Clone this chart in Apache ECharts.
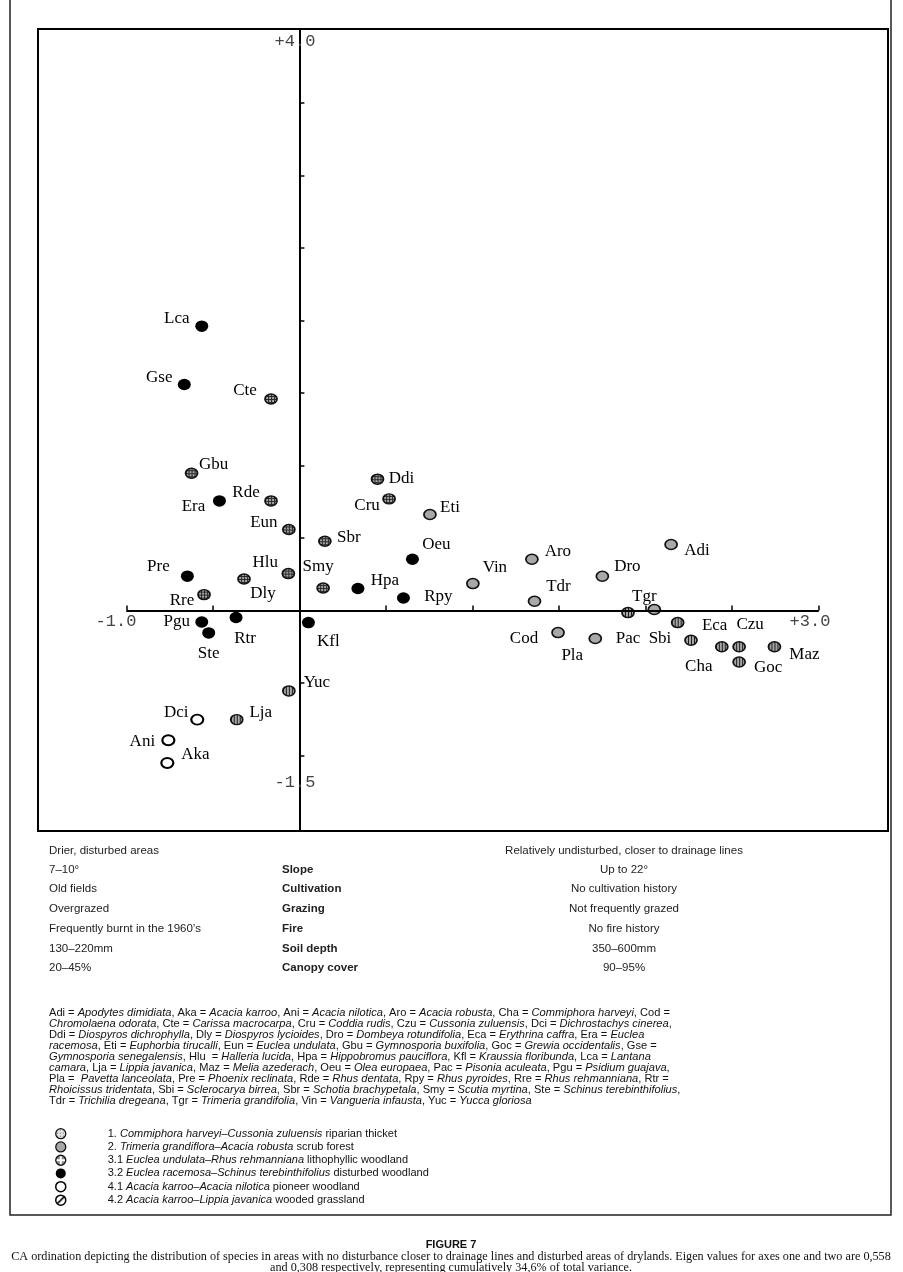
<!DOCTYPE html>
<html><head><meta charset="utf-8">
<script src="https://cdn.jsdelivr.net/npm/echarts@6/dist/echarts.min.js"></script>
<style>html,body{margin:0;padding:0;background:#fff}#c{width:903px;height:1272px}</style>
</head><body><div id="c"></div>
<script>
// ---------------- DATA ----------------
// Group 1: Commiphora harveyi–Cussonia zuluensis riparian thicket
const g1Names = ['Cha', 'Czu', 'Goc', 'Maz', 'Eca', 'Sbi', 'Pac'];
const g1X = [2.44, 2.54, 2.54, 2.744, 2.185, 2.262, 1.898];
const g1Y = [-0.25, -0.25, -0.355, -0.25, -0.083, -0.205, -0.014];
// Group 2: Trimeria grandiflora–Acacia robusta scrub forest
const g2Names = ['Adi', 'Aro', 'Dro', 'Tdr', 'Tgr', 'Vin', 'Eti', 'Cod', 'Pla'];
const g2X = [2.147, 1.343, 1.75, 1.358, 2.05, 1.002, 0.754, 1.494, 1.709];
const g2Y = [0.455, 0.354, 0.237, 0.064, 0.007, 0.186, 0.662, -0.152, -0.193];
// Group 3.1: Euclea undulata–Rhus rehmanniana lithophyllic woodland
const g31Names = ['Cte', 'Gbu', 'Rde', 'Eun', 'Hlu', 'Dly', 'Rre', 'Sbr', 'Smy', 'Ddi', 'Cru'];
const g31X = [-0.164, -0.623, -0.164, -0.061, -0.064, -0.32, -0.551, 0.147, 0.137, 0.451, 0.518];
const g31Y = [1.459, 0.947, 0.756, 0.559, 0.255, 0.218, 0.110, 0.478, 0.156, 0.906, 0.770];
// Group 3.2: Euclea racemosa–Schinus terebinthifolius disturbed woodland
const g32Names = ['Lca', 'Gse', 'Era', 'Pre', 'Pgu', 'Rtr', 'Ste', 'Kfl', 'Oeu', 'Hpa', 'Rpy'];
const g32X = [-0.564, -0.665, -0.462, -0.647, -0.564, -0.366, -0.524, 0.052, 0.653, 0.338, 0.601];
const g32Y = [1.961, 1.559, 0.756, 0.237, -0.079, -0.048, -0.154, -0.083, 0.354, 0.152, 0.087];
// Group 4.1: Acacia karroo–Acacia nilotica pioneer woodland
const g41Names = ['Dci', 'Ani', 'Aka'];
const g41X = [-0.59, -0.757, -0.763];
const g41Y = [-0.752, -0.894, -1.051];
// Group 4.2: Acacia karroo–Lippia javanica wooded grassland
const g42Names = ['Yuc', 'Lja'];
const g42X = [-0.061, -0.362];
const g42Y = [-0.554, -0.752];

const legendLabels = [
  '1. _Commiphora harveyi–Cussonia zuluensis_ riparian thicket',
  '2. _Trimeria grandiflora–Acacia robusta_ scrub forest',
  '3.1 _Euclea undulata–Rhus rehmanniana_ lithophyllic woodland',
  '3.2 _Euclea racemosa–Schinus terebinthifolius_ disturbed woodland',
  '4.1 _Acacia karroo–Acacia nilotica_ pioneer woodland',
  '4.2 _Acacia karroo–Lippia javanica_ wooded grassland'
];

const xTicks = [-1, -0.5, 0.5, 1, 1.5, 2, 2.5, 3];
const yTicks = [-1, -0.5, 0.5, 1, 1.5, 2, 2.5, 3, 3.5];
const axisEndLabels = ['-1.0', '+3.0', '+4.0', '-1.5'];

const tableLeft = ['Drier, disturbed areas', '7–10°', 'Old fields', 'Overgrazed', 'Frequently burnt in the 1960’s', '130–220mm', '20–45%'];
const tableMid = ['', 'Slope', 'Cultivation', 'Grazing', 'Fire', 'Soil depth', 'Canopy cover'];
const tableRight = ['Relatively undisturbed, closer to drainage lines', 'Up to 22°', 'No cultivation history', 'Not frequently grazed', 'No fire history', '350–600mm', '90–95%'];

const abbrevLines = [
  'Adi = _Apodytes dimidiata_, Aka = _Acacia karroo_, Ani = _Acacia nilotica_, Aro = _Acacia robusta_, Cha = _Commiphora harveyi_, Cod =',
  '_Chromolaena odorata_, Cte = _Carissa macrocarpa_, Cru = _Coddia rudis_, Czu = _Cussonia zuluensis_, Dci = _Dichrostachys cinerea_,',
  'Ddi = _Diospyros dichrophylla_, Dly = _Diospyros lycioides_, Dro = _Dombeya rotundifolia_, Eca = _Erythrina caffra_, Era = _Euclea_',
  '_racemosa_, Eti = _Euphorbia tirucalli_, Eun = _Euclea undulata_, Gbu = _Gymnosporia buxifolia_, Goc = _Grewia occidentalis_, Gse =',
  '_Gymnosporia senegalensis_, Hlu  = _Halleria lucida_, Hpa = _Hippobromus pauciflora_, Kfl = _Kraussia floribunda_, Lca = _Lantana_',
  '_camara_, Lja = _Lippia javanica_, Maz = _Melia azederach_, Oeu = _Olea europaea_, Pac = _Pisonia aculeata_, Pgu = _Psidium guajava_,',
  'Pla =  _Pavetta lanceolata_, Pre = _Phoenix reclinata_, Rde = _Rhus dentata_, Rpy = _Rhus pyroides_, Rre = _Rhus rehmanniana_, Rtr =',
  '_Rhoicissus tridentata_, Sbi = _Sclerocarya birrea_, Sbr = _Schotia brachypetala_, Smy = _Scutia myrtina_, Ste = _Schinus terebinthifolius_,',
  'Tdr = _Trichilia dregeana_, Tgr = _Trimeria grandifolia_, Vin = _Vangueria infausta_, Yuc = _Yucca gloriosa_'
];

const captionTitle = 'FIGURE 7';
const captionLines = [
  'CA ordination depicting the distribution of species in areas with no disturbance closer to drainage lines and disturbed areas of drylands. Eigen values for axes one and two are 0,558',
  'and 0,308 respectively, representing cumulatively 34,6% of total variance.'
];

// ---------------- STYLE / LAYOUT ----------------
// label offsets (pixels) relative to marker centre
const labelOffsets = {
  Lca: [-25, -8], Gse: [-25, -7], Cte: [-26, -8], Gbu: [22, -9], Era: [-26, 6], Rde: [-25, -8],
  Eun: [-25, -7], Sbr: [24, -4], Pre: [-29, -10], Hlu: [-23, -11], Dly: [19, 15], Smy: [-5, -21],
  Rre: [-22, 6], Pgu: [-25, 0], Rtr: [9, 21], Ste: [0, 21], Kfl: [20, 19], Yuc: [28, -8],
  Dci: [-21, -7], Lja: [24, -7], Ani: [-26, 1], Aka: [28, -8], Ddi: [24, -1], Cru: [-22, 7],
  Eti: [20, -7], Oeu: [24, -15], Hpa: [27, -8], Rpy: [35, -1], Vin: [22, -16], Aro: [26, -8],
  Adi: [26, 6], Dro: [25, -10], Tdr: [24, -15], Tgr: [-10, -13], Pac: [0, 26], Cod: [-34, 6],
  Pla: [-23, 17], Sbi: [-31, -2], Eca: [37, 3], Czu: [11, -22], Cha: [-23, 20], Goc: [29, 5], Maz: [30, 8]
};

const outlinedSize = [12, 10];
const solidSize = [13, 11.5];

function pattern(w, h, bg, draw, sx, sy) {
  const c = document.createElement('canvas');
  c.width = w; c.height = h;
  const ctx = c.getContext('2d');
  ctx.fillStyle = bg; ctx.fillRect(0, 0, w, h);
  draw(ctx);
  return { image: c, repeat: 'repeat', scaleX: sx || 1, scaleY: sy || 1 };
}
// symbols are drawn at unit size and scaled by size/2, so marker patterns are pre-scaled
const psx = 2 / outlinedSize[0], psy = 2 / outlinedSize[1];
const stripes = pattern(3, 3, '#a6a6a6', ctx => { ctx.fillStyle = '#1e1e1e'; ctx.fillRect(0, 0, 1, 3); }, psx, psy);
const hatch = pattern(3, 3, '#a4a4a4', ctx => { ctx.fillStyle = '#2a2a2a'; ctx.fillRect(0, 0, 1, 3); ctx.fillRect(0, 0, 3, 1); }, psx, psy);
const dots = pattern(3, 3, '#e4e4e4', ctx => { ctx.fillStyle = '#555'; ctx.fillRect(1, 1, 1, 1); });
const diag = pattern(10, 10, '#ffffff', ctx => {
  ctx.strokeStyle = '#000'; ctx.lineWidth = 1.6; ctx.beginPath(); ctx.moveTo(-1, 11); ctx.lineTo(11, -1); ctx.stroke();
});
const cross = pattern(10, 10, '#888', ctx => {
  ctx.fillStyle = '#fff'; ctx.fillRect(4, 0, 2, 10); ctx.fillRect(0, 4, 10, 2);
});

function toRich(s) {
  return s.split('_').map((p, k) => p ? '{' + (k % 2 ? 'i' : 'n') + '|' + p + '}' : '').join('');
}
const plainNames = legendLabels.map(s => s.replace(/_/g, ''));

function makeData(names, xs, ys) {
  return names.map((n, i) => ({
    name: n, value: [xs[i], ys[i]],
    label: { offset: labelOffsets[n] || [0, 0] }
  }));
}

const labelStyle = {
  show: true, position: 'inside', formatter: '{b}',
  color: '#000', fontFamily: 'Liberation Serif', fontSize: 17
};

function scatter(idx, names, xs, ys, itemStyle, size) {
  itemStyle.opacity = 1;
  return {
    type: 'scatter', name: plainNames[idx], z: 3,
    symbol: 'circle', symbolSize: size,
    itemStyle: itemStyle,
    label: labelStyle,
    emphasis: { disabled: true },
    data: makeData(names, xs, ys)
  };
}

const chart = echarts.init(document.getElementById('c'), null, { renderer: 'canvas' });

const textFont = (size, weight, fam) => (weight || 'normal') + ' ' + size + 'px ' + (fam || '"Liberation Sans", Arial, sans-serif');

const graphics = [];
// outer page border
graphics.push({ type: 'polyline', shape: { points: [[10, 0], [10, 1215], [891, 1215], [891, 0]] }, style: { stroke: '#222', lineWidth: 1.5, fill: null }, silent: true });
// axis end labels
const axisLabelPos = [[116, 621], [810, 621], [295, 41], [295, 782]];
axisEndLabels.forEach((t, i) => {
  graphics.push({ type: 'text', x: axisLabelPos[i][0], y: axisLabelPos[i][1], z: 1,
    style: { text: t, font: textFont(17, 'normal', '"Liberation Mono", "DejaVu Sans Mono", monospace'), fill: '#444', align: 'center', verticalAlign: 'middle' } });
});
// table
const rowY = [851, 870, 889, 909, 929, 949, 968];
rowY.forEach((y, i) => {
  graphics.push({ type: 'text', x: 49, y: y, style: { text: tableLeft[i], font: textFont(11.5), fill: '#222', align: 'left', verticalAlign: 'middle' } });
  if (tableMid[i]) graphics.push({ type: 'text', x: 282, y: y, style: { text: tableMid[i], font: textFont(11.5, 'bold'), fill: '#222', align: 'left', verticalAlign: 'middle' } });
  graphics.push({ type: 'text', x: 624, y: y, style: { text: tableRight[i], font: textFont(11.5), fill: '#222', align: 'center', verticalAlign: 'middle' } });
});
// abbreviation paragraph
const richStyles = {
  n: { fontFamily: '"Liberation Sans", Arial, sans-serif', fontSize: 11.1, fill: '#111', color: '#111' },
  i: { fontFamily: '"Liberation Sans", Arial, sans-serif', fontSize: 11.1, fontStyle: 'italic', fill: '#111', color: '#111' }
};
abbrevLines.forEach((line, i) => {
  graphics.push({ type: 'text', x: 49, y: 1013 + i * 11, style: { text: toRich(line), rich: richStyles, align: 'left', verticalAlign: 'middle' } });
});
// caption
graphics.push({ type: 'text', x: 451, y: 1245, style: { text: captionTitle, font: textFont(11, 'bold'), fill: '#111', align: 'center', verticalAlign: 'middle' } });
captionLines.forEach((t, i) => {
  graphics.push({ type: 'text', x: 451, y: 1257 + i * 11, style: { text: t, font: textFont(12.2, 'normal', '"Liberation Serif", serif'), fill: '#111', align: 'center', verticalAlign: 'middle' } });
});

const option = {
  animation: false,
  backgroundColor: '#fff',
  grid: { left: 38, right: 15, top: 29, bottom: 441, show: true, borderColor: '#000', borderWidth: 2, backgroundColor: 'transparent' },
  xAxis: {
    type: 'value', min: -1.51, max: 3.40,
    axisLine: { show: false, onZero: true },
    axisTick: { show: true, inside: true, length: 5, customValues: xTicks, lineStyle: { color: '#000', width: 1.5 } },
    axisLabel: { show: false }, splitLine: { show: false }
  },
  yAxis: {
    type: 'value', min: -1.52, max: 4.01,
    axisLine: { show: true, onZero: true, lineStyle: { color: '#000', width: 2 } },
    axisTick: { show: true, inside: true, length: 5, customValues: yTicks, lineStyle: { color: '#000', width: 1.5 } },
    axisLabel: { show: false }, splitLine: { show: false }
  },
  legend: {
    orient: 'vertical', left: 50, top: 1123, itemWidth: 10, itemHeight: 10, itemGap: 2,
    icon: 'circle', selectedMode: false,
    data: plainNames.map((n, i) => ({
      name: n,
      itemStyle: [
        { color: dots, borderColor: '#111', borderWidth: 1.3, opacity: 1 },
        { color: '#a8a8a8', borderColor: '#111', borderWidth: 1.3, opacity: 1 },
        { color: cross, borderColor: '#111', borderWidth: 1.3, opacity: 1 },
        { color: '#000', borderColor: '#000', borderWidth: 0, opacity: 1 },
        { color: '#fff', borderColor: '#000', borderWidth: 1.5, opacity: 1 },
        { color: diag, borderColor: '#000', borderWidth: 1.5, opacity: 1 }
      ][i]
    })),
    formatter: function (name) {
      const i = plainNames.indexOf(name);
      return '{gap| }' + toRich(legendLabels[i]);
    },
    textStyle: {
      fontSize: 11, color: '#111', lineHeight: 10,
      rich: {
        gap: { width: 37, fontSize: 11, lineHeight: 10 },
        n: { fontSize: 11, fontFamily: '"Liberation Sans", Arial, sans-serif', color: '#111', lineHeight: 10 },
        i: { fontSize: 11, fontFamily: '"Liberation Sans", Arial, sans-serif', fontStyle: 'italic', color: '#111', lineHeight: 10 }
      }
    }
  },
  graphic: graphics,
  series: [
    {
      type: 'scatter', name: 'axis', z: 1, data: [], silent: true,
      markLine: {
        silent: true, symbol: 'none', animation: false, label: { show: false },
        lineStyle: { color: '#000', width: 2, type: 'solid' },
        emphasis: { disabled: true },
        data: [[{ coord: [xTicks[0], 0] }, { coord: [xTicks[xTicks.length - 1], 0] }]]
      }
    },
    scatter(0, g1Names, g1X, g1Y, { color: stripes, borderColor: '#111', borderWidth: 1.6 }, outlinedSize),
    scatter(1, g2Names, g2X, g2Y, { color: '#a8a8a8', borderColor: '#111', borderWidth: 1.6 }, outlinedSize),
    scatter(2, g31Names, g31X, g31Y, { color: hatch, borderColor: '#111', borderWidth: 1.6 }, outlinedSize),
    scatter(3, g32Names, g32X, g32Y, { color: '#000' }, solidSize),
    scatter(4, g41Names, g41X, g41Y, { color: '#fff', borderColor: '#000', borderWidth: 2 }, outlinedSize),
    scatter(5, g42Names, g42X, g42Y, { color: stripes, borderColor: '#111', borderWidth: 1.6 }, outlinedSize)
  ]
};
chart.setOption(option);
</script>
</body></html>
